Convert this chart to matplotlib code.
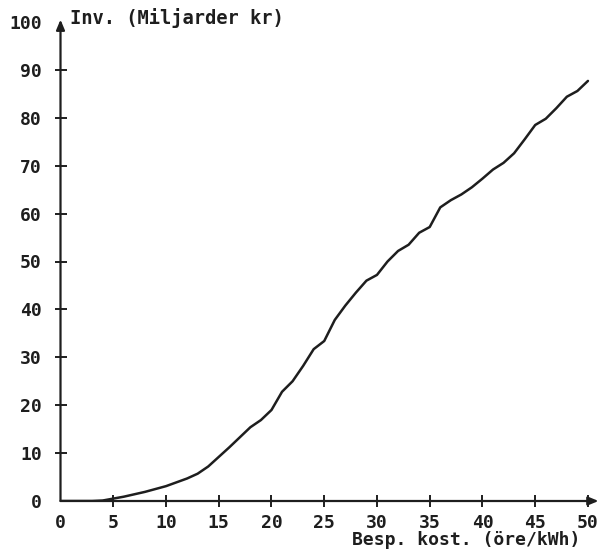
import matplotlib
matplotlib.use("Agg")
import matplotlib.pyplot as plt

# Data
cost = list(range(0, 51))
investment = [0, 0, 0, 0, 0.1, 0.5, 0.9, 1.4, 1.9, 2.5,
              3.1, 3.9, 4.7, 5.7, 7.2, 9.2, 11.2, 13.3, 15.4, 16.9,
              19.0, 22.8, 25.0, 28.2, 31.7, 33.4, 37.8, 40.8, 43.5, 46.0,
              47.2, 50.0, 52.2, 53.5, 56.0, 57.2, 61.3, 62.8, 64.0, 65.5,
              67.3, 69.2, 70.6, 72.6, 75.5, 78.5, 79.8, 82.0, 84.4, 85.6,
              87.7]
x_ticks = [0, 5, 10, 15, 20, 25, 30, 35, 40, 45, 50]
y_ticks = [0, 10, 20, 30, 40, 50, 60, 70, 80, 90, 100]
y_label = "Inv. (Miljarder kr)"
x_label = "Besp. kost. (öre/kWh)"

plt.rcParams['font.family'] = ['DejaVu Sans Mono']
plt.rcParams['font.weight'] = 'bold'

fig = plt.figure(figsize=(6.0, 5.51), dpi=100)
ax = fig.add_axes([60.5/600, 50/551, 538/600, 479/551])
ax.set_xlim(0, 51)
ax.set_ylim(0, 100)
for s in ax.spines.values():
    s.set_visible(False)

ink = '#1e1e1e'
ax.plot(cost, investment, color=ink, lw=1.8, solid_capstyle='round',
        solid_joinstyle='round')

arrow = dict(arrowstyle='-|>,head_length=0.6,head_width=0.25', color=ink, lw=1.6,
             shrinkA=0, shrinkB=0)
ax.annotate('', xy=(51, 0), xytext=(0, 0), arrowprops=arrow, annotation_clip=False)
ax.annotate('', xy=(0, 100.5), xytext=(0, 0), arrowprops=arrow, annotation_clip=False)

ax.set_xticks(x_ticks)
ax.set_yticks(y_ticks)
ax.set_xticklabels([str(v) for v in x_ticks])
ax.set_yticklabels([str(v) for v in y_ticks])
ax.tick_params(axis='both', direction='inout', length=9, width=1.4, color=ink,
               labelsize=13, labelcolor=ink)
ax.tick_params(axis='x', pad=5)
ax.tick_params(axis='y', pad=9)
ax.yaxis.get_major_ticks()[-1].tick1line.set_visible(False)
ax.yaxis.get_major_ticks()[0].tick1line.set_visible(False)
ax.xaxis.get_major_ticks()[0].tick1line.set_visible(False)

fig.text(70/600, 1 - 18/551, y_label, ha='left', va='center', fontsize=13.5,
         color=ink, fontweight='bold')
fig.text(580/600, 1 - 540/551, x_label, ha='right', va='center', fontsize=13,
         color=ink, fontweight='bold')

fig.savefig("out.png", dpi=100, facecolor='white')
